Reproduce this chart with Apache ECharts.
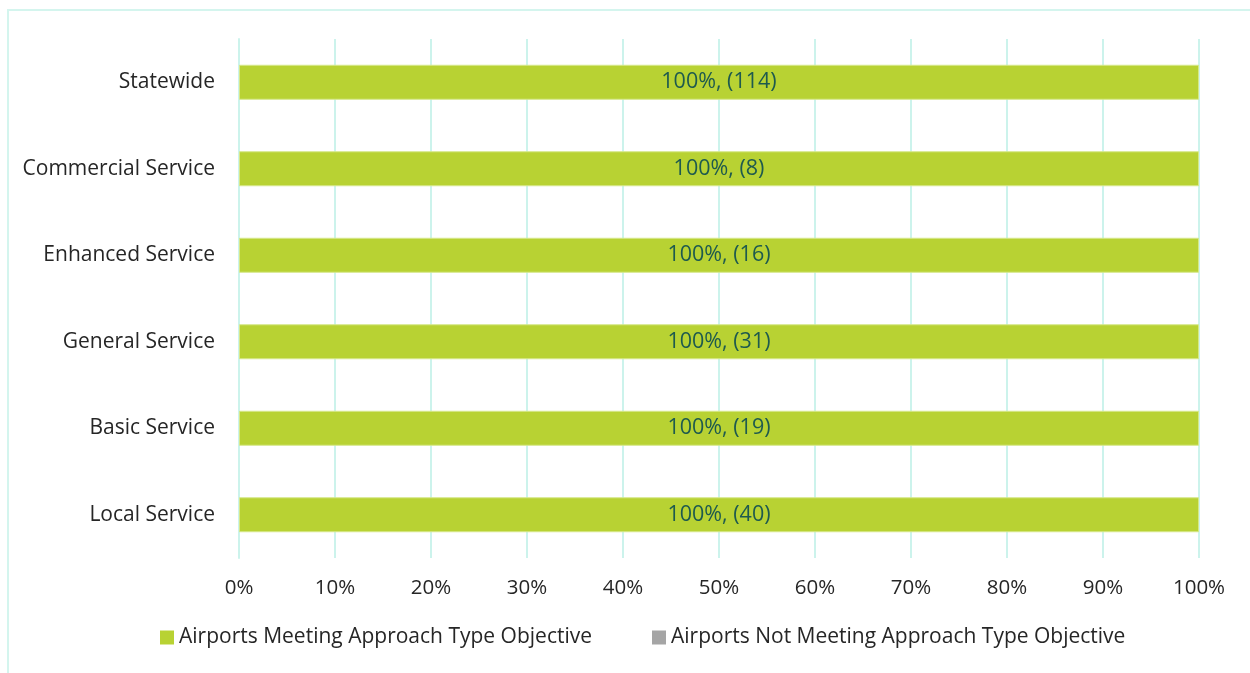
<!DOCTYPE html>
<html>
<head>
<meta charset="utf-8">
<script src="https://cdn.jsdelivr.net/npm/echarts@6/dist/echarts.min.js"></script>
<style>
  html, body { margin: 0; padding: 0; background: #fff; }
  #frame {
    position: absolute; left: 7px; top: 9px; width: 1260px; height: 680px;
    border: 2px solid #d4f5ee; box-sizing: border-box;
  }
  #chart { position: absolute; left: 0; top: 0; width: 1250px; height: 673px; }
</style>
</head>
<body>
<div id="frame"></div>
<div id="chart"></div>
<script>
// categories are listed bottom to top
const categories = ['Local Service', 'Basic Service', 'General Service', 'Enhanced Service', 'Commercial Service', 'Statewide']
const meetingPct = [100, 100, 100, 100, 100, 100]
const notMeetingPct = [0, 0, 0, 0, 0, 0]
const meetingCount = [40, 19, 31, 16, 8, 114]
const xTicks = [0, 10, 20, 30, 40, 50, 60, 70, 80, 90, 100]

const font = '"Open Sans", "Noto Sans", sans-serif'
const chart = echarts.init(document.getElementById('chart'))
chart.setOption({
  animation: false,
  textStyle: { fontFamily: font },
  grid: { left: 239, right: 51, top: 39, bottom: 115 },
  legend: {
    bottom: 20,
    left: 155,
    itemWidth: 14,
    itemHeight: 14,
    itemGap: 60,
    icon: 'rect',
    itemStyle: { borderWidth: 0 },
    textStyle: { fontSize: 21, color: '#262626', fontFamily: font },
    data: ['Airports Meeting Approach Type Objective', 'Airports Not Meeting Approach Type Objective']
  },
  xAxis: {
    type: 'value',
    min: xTicks[0],
    max: xTicks[xTicks.length - 1],
    interval: 10,
    axisLine: { show: false },
    axisTick: { show: false },
    axisLabel: {
      fontSize: 20.5,
      color: '#262626',
      margin: 20,
      formatter: v => v + '%'
    },
    splitLine: { lineStyle: { color: '#ccf3ec', width: 2 } }
  },
  yAxis: {
    type: 'category',
    data: categories,
    axisLine: { show: true, lineStyle: { color: '#ccf3ec', width: 2 } },
    axisTick: { show: false },
    axisLabel: { fontSize: 21, color: '#262626', margin: 24 }
  },
  series: [{
    name: 'Airports Meeting Approach Type Objective',
    type: 'bar',
    stack: 'total',
    barWidth: 35,
    data: meetingPct,
    itemStyle: { color: '#b8d233', borderColor: '#d6e88a', borderWidth: 1 },
    label: {
      show: true,
      position: 'inside',
      fontSize: 21.5,
      color: '#1e5a4e',
      fontFamily: font,
      formatter: p => p.value + '%, (' + meetingCount[p.dataIndex] + ')'
    }
  }, {
    name: 'Airports Not Meeting Approach Type Objective',
    type: 'bar',
    stack: 'total',
    barWidth: 35,
    data: notMeetingPct,
    itemStyle: { color: '#a5a5a5' }
  }]
})
</script>
</body>
</html>
